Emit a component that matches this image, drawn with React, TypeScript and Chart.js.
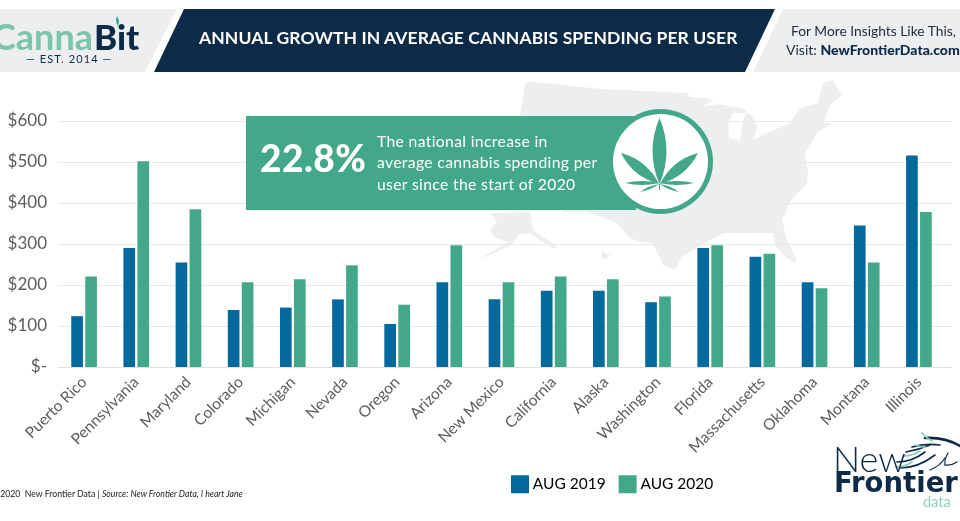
import React, { useEffect, useRef } from "react";
import { Chart, registerables } from "chart.js";

Chart.register(...registerables);

const categories = ["Puerto Rico", "Pennsylvania", "Maryland", "Colorado", "Michigan", "Nevada", "Oregon", "Arizona", "New Mexico", "California", "Alaska", "Washington", "Florida", "Massachusetts", "Oklahoma", "Montana", "Illinois"];
const aug2019 = [124, 290, 255, 139, 145, 165, 105, 207, 165, 186, 186, 158, 290, 269, 207, 345, 516];
const aug2020 = [221, 502, 385, 207, 214, 248, 152, 297, 207, 221, 214, 172, 297, 276, 192, 255, 378];
const seriesNames = ["AUG 2019", "AUG 2020"];

const BLUE = "#05699d";
const GREEN = "#43a88a";
const NAVY = "#0d2a47";
const PALE = "#eceef0";
const TICK = "#5a5d60";
const MINT = "#8ccfbd";

const usaOutline: number[][] = [
  [525, 83], [535, 82], [600, 89], [687, 93], [690, 97], [705, 98], [714, 100], [702, 107], [718, 104], [735, 107], [748, 110], [744, 113], [733, 113],
  [728, 124], [729, 138], [740, 141], [742, 125], [746, 112], [752, 116], [757, 127], [753, 140], [767, 133], [790, 123], [800, 108], [818, 103],
  [823, 83], [833, 80], [842, 95], [830, 105], [823, 123], [833, 123], [818, 132], [805, 153], [808, 170], [807, 183], [790, 202], [782, 220],
  [787, 240], [797, 260], [795, 263], [787, 258], [775, 245], [773, 233], [757, 233], [723, 233], [707, 242], [682, 257], [675, 270], [663, 265],
  [653, 243], [640, 242], [630, 238], [617, 223], [587, 212], [563, 212], [535, 160], [520, 116],
];
const alaskaOutline: number[][] = [
  [490, 213], [530, 212], [533, 230], [543, 237], [558, 247], [553, 248], [540, 240], [530, 233], [518, 235], [512, 245], [478, 260], [498, 248], [508, 242], [495, 238], [490, 230], [497, 222],
];
const hawaiiOutline: number[][] = [[602, 251], [610, 255], [605, 260], [601, 257]];

function poly(ctx: CanvasRenderingContext2D, pts: number[][], color: string) {
  ctx.fillStyle = color;
  ctx.beginPath();
  pts.forEach((p, i) => (i ? ctx.lineTo(p[0], p[1]) : ctx.moveTo(p[0], p[1])));
  ctx.closePath();
  ctx.fill();
}

function leaflet(ctx: CanvasRenderingContext2D, bx: number, by: number, tx: number, ty: number, w: number) {
  const dx = tx - bx, dy = ty - by, len = Math.hypot(dx, dy);
  const nx = -dy / len, ny = dx / len;
  const mx = bx + dx * 0.5, my = by + dy * 0.5;
  ctx.beginPath();
  ctx.moveTo(bx, by);
  ctx.quadraticCurveTo(mx + nx * w, my + ny * w, tx, ty);
  ctx.quadraticCurveTo(mx - nx * w, my - ny * w, bx, by);
  ctx.fill();
}

const backdrop = {
  id: "backdrop",
  beforeDraw(chart: any) {
    const ctx: CanvasRenderingContext2D = chart.ctx;
    ctx.save();
    poly(ctx, [[0, 9], [177, 9], [145, 72], [0, 72]], PALE);
    poly(ctx, [[184, 9], [775, 9], [745, 72], [154, 72]], NAVY);
    poly(ctx, [[783, 9], [960, 9], [960, 72], [753, 72]], PALE);
    poly(ctx, usaOutline, PALE);
    poly(ctx, alaskaOutline, PALE);
    poly(ctx, hawaiiOutline, PALE);
    ctx.restore();
  },
  beforeDatasetsDraw(chart: any) {
    const ctx: CanvasRenderingContext2D = chart.ctx;
    const y = chart.scales.y;
    ctx.save();
    y.ticks.forEach((t: any) => {
      const py = Math.round(y.getPixelForValue(t.value)) + 0.5;
      ctx.strokeStyle = t.value === 0 ? "#dfe0e2" : "#e9e9ec";
      ctx.lineWidth = 1;
      ctx.beginPath();
      ctx.moveTo(chart.chartArea.left, py);
      ctx.lineTo(chart.chartArea.right + 7, py);
      ctx.stroke();
    });
    ctx.restore();
  },
  afterLayout(chart: any) {
    const l = chart.legend;
    l.left = 498;
    l.right = 960;
    l.top = 459.5;
    l.bottom = 515;
  },
  afterDraw(chart: any) {
    const ctx: CanvasRenderingContext2D = chart.ctx;
    ctx.save();
    ctx.fillStyle = GREEN;
    ctx.fillRect(246, 116, 390, 94);
    ctx.beginPath();
    ctx.arc(660.5, 161.5, 52.5, 0, Math.PI * 2);
    ctx.fill();
    ctx.fillStyle = "#fff";
    ctx.beginPath();
    ctx.arc(660.5, 161.5, 47.5, 0, Math.PI * 2);
    ctx.fill();
    ctx.fillStyle = GREEN;
    leaflet(ctx, 659.5, 184, 659.5, 118, 14);
    leaflet(ctx, 659, 184, 621, 153, 11);
    leaflet(ctx, 660, 184, 698, 153, 11);
    leaflet(ctx, 659, 183, 625, 183, 4);
    leaflet(ctx, 660, 183, 694, 183, 4);
    leaflet(ctx, 659, 184, 640, 192, 2.5);
    leaflet(ctx, 660, 184, 679, 192, 2.5);
    ctx.strokeStyle = GREEN;
    ctx.lineWidth = 1;
    ctx.beginPath();
    ctx.moveTo(659.5, 184);
    ctx.lineTo(659.5, 190);
    ctx.stroke();

    // bird mark of the New Frontier logo
    ctx.lineCap = "round";
    const strokes: [string, number, number[]][] = [
      [NAVY, 1.6, [897, 462, 912, 462, 925, 452]],
      [NAVY, 1.6, [900, 468, 918, 468, 935, 455]],
      [NAVY, 1.6, [906, 452, 918, 450, 930, 445]],
      [NAVY, 1.6, [912, 447, 925, 443, 940, 445]],
      [NAVY, 2.6, [925, 438, 945, 437, 960, 446]],
      [NAVY, 1.2, [948, 453, 944, 460, 945, 465]],
      [NAVY, 1.2, [945, 465, 951, 466, 957, 462]],
      [NAVY, 1.2, [930, 470, 940, 466, 945, 458]],
      [MINT, 1.8, [896, 467, 905, 467, 912, 462]],
      [MINT, 1.8, [922, 433, 926, 438, 932, 441]],
      [MINT, 1.8, [915, 445, 920, 447, 925, 447]],
      [MINT, 1.8, [904, 456, 912, 456, 920, 451]],
    ];
    strokes.forEach(([c, w, p]) => {
      ctx.strokeStyle = c;
      ctx.lineWidth = w;
      ctx.beginPath();
      ctx.moveTo(p[0], p[1]);
      ctx.quadraticCurveTo(p[2], p[3], p[4], p[5]);
      ctx.stroke();
    });
    // sprout on the CannaBit logo
    ctx.fillStyle = GREEN;
    leaflet(ctx, 118, 26, 117, 16, 3);
    ctx.restore();
  },
};

const T: React.FC<{ x: number; y: number; style?: React.CSSProperties; children: React.ReactNode }> = ({ x, y, style, children }) => (
  <div style={{ position: "absolute", left: x, top: y, whiteSpace: "pre", fontFamily: "Lato", lineHeight: 1, ...style }}>{children}</div>
);

export default function App() {
  const ref = useRef<HTMLCanvasElement>(null);
  useEffect(() => {
    const chart = new Chart(ref.current as HTMLCanvasElement, {
      type: "bar",
      data: {
        labels: categories,
        datasets: [
          { label: seriesNames[0], data: aug2019, backgroundColor: BLUE, categoryPercentage: 0.536, barPercentage: 0.836 },
          { label: seriesNames[1], data: aug2020, backgroundColor: GREEN, categoryPercentage: 0.536, barPercentage: 0.836 },
        ],
      },
      options: {
        animation: false,
        responsive: false,
        devicePixelRatio: 1,
        layout: { padding: { left: 0, right: 15, top: 121, bottom: 0 } },
        plugins: {
          title: { display: false },
          tooltip: { enabled: false },
          legend: {
            position: "bottom",
            align: "start",
            labels: {
              boxWidth: 10,
              boxHeight: 10,
              padding: 17,
              color: TICK,
              font: { family: "Lato", size: 15.5 },
              generateLabels: () =>
                [BLUE, GREEN].map((c, i) => ({ text: seriesNames[i], fillStyle: c, strokeStyle: c, lineWidth: 8, hidden: false, datasetIndex: i })),
            },
          },
        },
        scales: {
          x: {
            grid: { display: false, drawTicks: false },
            border: { display: false },
            ticks: { color: TICK, font: { family: "Lato", size: 15.5 }, minRotation: 45, maxRotation: 45, autoSkip: false, padding: 6 },
            afterFit: (s: any) => {
              s.height = 154 - (s.chart.legend?.height ?? 52);
            },
          },
          y: {
            min: 0,
            max: 600,
            grid: { display: false, drawTicks: false },
            border: { display: false },
            ticks: {
              stepSize: 100,
              padding: 11,
              color: TICK,
              font: { family: "Lato", size: 17 },
              callback: (v: any) => (v === 0 ? "$-" : "$" + v),
            },
            afterFit: (s: any) => {
              s.width = 58;
            },
          },
        },
      },
      plugins: [backdrop],
    } as any);
    return () => chart.destroy();
  }, []);

  return (
    <div style={{ position: "fixed", left: 0, top: 0, width: 960, height: 521, overflow: "hidden", background: "#fff" }}>
      <canvas ref={ref} width={960} height={521} style={{ position: "absolute", left: 0, top: 0, width: 960, height: 521 }} />

      <T x={-8} y={18} style={{ fontSize: 36, fontWeight: 700, color: "#7cc4ab" }}>Canna</T>
      <T x={94} y={19} style={{ fontSize: 35, fontWeight: 900, color: NAVY }}>Bit</T>
      <T x={26} y={53} style={{ fontSize: 11, color: NAVY, letterSpacing: 1.1 }}>— EST. 2014 —</T>

      <T x={199} y={29} style={{ fontSize: 17.5, fontWeight: 700, color: "#fff", letterSpacing: 0.1 }}>ANNUAL GROWTH IN AVERAGE CANNABIS SPENDING PER USER</T>

      <T x={791} y={24} style={{ fontSize: 13.8, color: "#1c2c3c" }}>For More Insights Like This,</T>
      <T x={786} y={43} style={{ fontSize: 14, color: "#1c2c3c" }}>
        Visit: <span style={{ fontWeight: 900, color: NAVY }}>NewFrontierData.com</span>
      </T>

      <T x={260} y={139} style={{ fontSize: 37, fontWeight: 900, color: "#fff", letterSpacing: 0.5 }}>22.8%</T>
      <T x={377} y={134} style={{ fontSize: 15.7, color: "#fff", letterSpacing: 0.35 }}>The national increase in</T>
      <T x={377} y={155} style={{ fontSize: 15.7, color: "#fff", letterSpacing: 0.35 }}>average cannabis spending per</T>
      <T x={377} y={177} style={{ fontSize: 15.7, color: "#fff", letterSpacing: 0.35 }}>user since the start of 2020</T>

      <T x={-7} y={490} style={{ fontSize: 8.7, color: "#222" }}>
        ©2020  New Frontier Data | <i>Source: New Frontier Data, I heart Jane</i>
      </T>

      <T x={833} y={440} style={{ fontSize: 36, fontWeight: 300, color: NAVY }}>New</T>
      <T x={834} y={469} style={{ fontSize: 27.5, fontWeight: 700, fontFamily: "DejaVu Sans", color: NAVY }}>Frontier</T>
      <T x={923} y={495} style={{ fontSize: 14.5, color: MINT }}>data</T>
    </div>
  );
}
